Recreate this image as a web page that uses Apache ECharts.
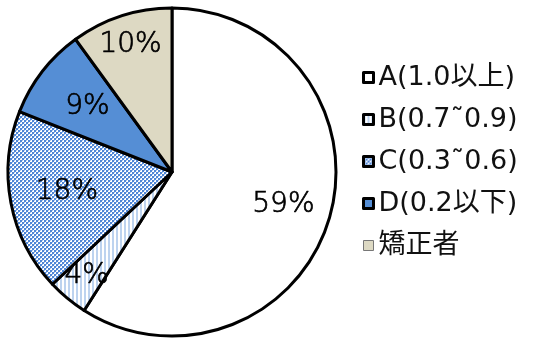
<!DOCTYPE html>
<html><head><meta charset="utf-8">
<script src="https://cdn.jsdelivr.net/npm/echarts@6/dist/echarts.min.js"></script>
<style>html,body{margin:0;padding:0;background:#fff}#c{width:535px;height:338px}</style>
</head><body><div id="c"></div>
<script>
const categories = ['A(1.0以上)', 'B(0.7˜0.9)', 'C(0.3˜0.6)', 'D(0.2以下)', '矯正者'];
const values = [59, 4, 18, 9, 10];

function stripePattern() {
  const c = document.createElement('canvas'); c.width = 4; c.height = 4;
  const x = c.getContext('2d');
  x.fillStyle = '#ffffff'; x.fillRect(0, 0, 4, 4);
  x.fillStyle = '#bdd3ef'; x.fillRect(0, 0, 2, 4);
  return c;
}
function checkerPattern() {
  const c = document.createElement('canvas'); c.width = 4; c.height = 4;
  const x = c.getContext('2d');
  x.fillStyle = '#ffffff'; x.fillRect(0, 0, 4, 4);
  x.fillStyle = '#4f86d6'; x.fillRect(0, 0, 2, 2); x.fillRect(2, 2, 2, 2);
  x.fillStyle = '#a9c4ec'; x.fillRect(2, 0, 1, 1); x.fillRect(0, 2, 1, 1);
  return c;
}
const fills = ['#ffffff', {image: stripePattern(), repeat: 'repeat'}, {image: checkerPattern(), repeat: 'repeat'}, '#558ed5', '#ddd9c3'];
// label ring per slice (0 = nearer centre, 2 = nearer rim)
const labelRing = [1, 2, 0, 0, 2];
const ringInner = [44, 62, 98];

const chart = echarts.init(document.getElementById('c'), null, {renderer: 'canvas'});
const mainData = categories.map((n, i) => ({name: n, value: values[i], itemStyle: {color: fills[i]}}));
const labelStyle = {position: 'inside', formatter: '{c}%', fontSize: 28, fontWeight: 200, color: '#000',
  textBorderColor: '#000', textBorderWidth: 0.7, fontFamily: 'DejaVu Sans'};
function labelSeries(ring) {
  return {
    type: 'pie', center: [172, 172], radius: [ringInner[ring], 164],
    startAngle: 90, clockwise: true, silent: true,
    itemStyle: {color: 'rgba(0,0,0,0)', borderWidth: 0},
    label: labelStyle, labelLine: {show: false},
    data: categories.map((n, i) => ({name: n, value: values[i], label: {show: labelRing[i] === ring}}))
  };
}
chart.setOption({
  animation: false,
  legend: {
    orient: 'vertical', left: 362, top: 64, padding: 0,
    itemWidth: 10, itemHeight: 10, itemGap: 15,
    icon: 'rect',
    textStyle: {fontSize: 27, lineHeight: 27, color: '#111', fontFamily: "'DejaVu Sans', 'Noto Sans CJK JP'"},
    data: categories.map((n, i) => ({
      name: n,
      itemStyle: i === 4 ? {borderColor: '#777', borderWidth: 1} : {borderColor: '#000', borderWidth: 3}
    }))
  },
  series: [{
    type: 'pie', center: [172, 172], radius: [0, 164],
    startAngle: 90, clockwise: true, silent: true,
    itemStyle: {borderColor: '#000', borderWidth: 3},
    label: {show: false}, labelLine: {show: false},
    data: mainData
  }, labelSeries(0), labelSeries(1), labelSeries(2)]
});
</script></body></html>
